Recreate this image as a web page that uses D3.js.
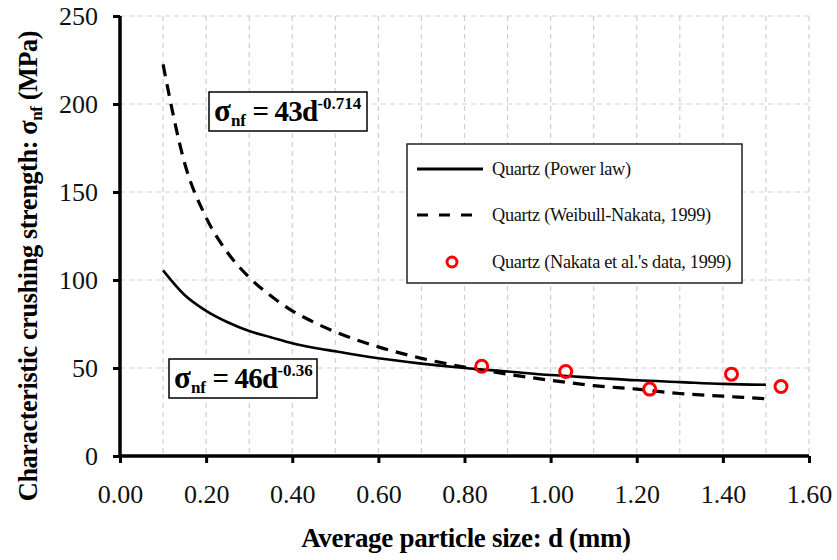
<!DOCTYPE html>
<html>
<head>
<meta charset="utf-8">
<script src="https://cdn.jsdelivr.net/npm/d3@7"></script>
</head>
<body style="margin:0">
<script>
// curve sample points
const sizes = [0.10, 0.15, 0.20, 0.25, 0.30, 0.35, 0.40, 0.45, 0.50, 0.60, 0.70, 0.80, 0.90, 1.00, 1.10, 1.20, 1.30, 1.40, 1.50];
const powerLaw = [105.5, 91.5, 82.5, 76.0, 71.0, 67.5, 64.0, 61.5, 59.5, 55.5, 52.5, 50.0, 48.0, 46.0, 44.5, 43.0, 42.0, 41.0, 40.5];
const weibull = [222.5, 166.5, 135.5, 115.5, 101.5, 91.0, 82.5, 76.0, 70.5, 62.0, 55.5, 50.5, 46.5, 43.0, 40.0, 38.0, 35.5, 34.0, 32.5];

// Nakata et al. measured points
const dataSize = [0.84, 1.035, 1.23, 1.42, 1.535];
const dataStrength = [51.0, 48.0, 38.0, 46.5, 39.5];

const xTicks = [0, 0.2, 0.4, 0.6, 0.8, 1.0, 1.2, 1.4, 1.6];
const yTicks = [0, 50, 100, 150, 200, 250];
const legendLabels = ['Quartz (Power law)', 'Quartz (Weibull-Nakata, 1999)', "Quartz (Nakata et al.'s data, 1999)"];

const FONT = 'Liberation Serif, Times New Roman, Tinos, serif';

const width = 837, height = 560;
const margin = {top: 16, right: 28, bottom: 104, left: 120};
const w = width - margin.left - margin.right;
const h = height - margin.top - margin.bottom;

const svg = d3.select('body').append('svg')
    .attr('width', width)
    .attr('height', height)
    .attr('font-family', FONT);

const g = svg.append('g')
    .attr('transform', `translate(${margin.left},${margin.top})`);

const x = d3.scaleLinear().domain([0, 1.6]).range([0, w]);
const y = d3.scaleLinear().domain([0, 250]).range([h, 0]);

// grid
const gridX = d3.range(1, 17).map(i => i / 10);
g.append('g').selectAll('line')
    .data(gridX)
    .join('line')
    .attr('x1', d => x(d)).attr('x2', d => x(d))
    .attr('y1', 0).attr('y2', h)
    .attr('stroke', '#cfcfcf').attr('stroke-width', 1.2)
    .attr('stroke-dasharray', '5,4');

g.append('g').selectAll('line')
    .data(yTicks.slice(1))
    .join('line')
    .attr('x1', 0).attr('x2', w)
    .attr('y1', d => y(d)).attr('y2', d => y(d))
    .attr('stroke', '#cfcfcf').attr('stroke-width', 1.2)
    .attr('stroke-dasharray', '5,4');

// axes
const xAxis = g.append('g')
    .attr('transform', `translate(0,${h})`)
    .call(d3.axisBottom(x).tickValues(xTicks).tickFormat(d3.format('.2f')).tickSize(7).tickPadding(22));
const yAxis = g.append('g')
    .call(d3.axisLeft(y).tickValues(yTicks).tickSize(7).tickPadding(15));

[xAxis, yAxis].forEach(a => {
    a.attr('font-family', FONT).attr('font-size', 26);
    a.select('.domain').attr('stroke', '#000').attr('stroke-width', 3.5);
    a.selectAll('.tick line').attr('stroke', '#000').attr('stroke-width', 3);
    a.selectAll('.tick text')
        .attr('fill', '#111')
        .attr('font-family', FONT);
});
xAxis.select('.domain').attr('d', `M0,0H${w}`);
yAxis.select('.domain').attr('d', `M0,0V${h}`);

// curves
const line = d3.line()
    .x(d => x(d[0]))
    .y(d => y(d[1]))
    .curve(d3.curveMonotoneX);

g.append('path')
    .datum(d3.zip(sizes, weibull))
    .attr('d', line)
    .attr('fill', 'none')
    .attr('stroke', '#000')
    .attr('stroke-width', 3.2)
    .attr('stroke-dasharray', '12,8');

g.append('path')
    .datum(d3.zip(sizes, powerLaw))
    .attr('d', line)
    .attr('fill', 'none')
    .attr('stroke', '#000')
    .attr('stroke-width', 2.6);

g.append('g').selectAll('circle')
    .data(d3.zip(dataSize, dataStrength))
    .join('circle')
    .attr('cx', d => x(d[0]))
    .attr('cy', d => y(d[1]))
    .attr('r', 6)
    .attr('fill', 'none')
    .attr('stroke', '#ff0000')
    .attr('stroke-width', 3);

// legend
const legend = svg.append('g').attr('transform', 'translate(407,144)');
legend.append('rect')
    .attr('width', 335).attr('height', 139)
    .attr('fill', '#fff').attr('stroke', '#222').attr('stroke-width', 1.5);

const rowY = [25, 71, 118];
legend.append('line')
    .attr('x1', 10).attr('x2', 76).attr('y1', rowY[0]).attr('y2', rowY[0])
    .attr('stroke', '#000').attr('stroke-width', 3);
legend.append('line')
    .attr('x1', 10).attr('x2', 76).attr('y1', rowY[1]).attr('y2', rowY[1])
    .attr('stroke', '#000').attr('stroke-width', 3.2).attr('stroke-dasharray', '11,11');
legend.append('circle')
    .attr('cx', 45).attr('cy', rowY[2]).attr('r', 5)
    .attr('fill', 'none').attr('stroke', '#ff0000').attr('stroke-width', 3);

legend.selectAll('text.lab')
    .data(legendLabels)
    .join('text')
    .attr('class', 'lab')
    .attr('x', 85)
    .attr('y', (d, i) => rowY[i] + 6)
    .attr('font-family', FONT)
    .attr('font-size', 18.3)
    .attr('letter-spacing', -0.3)
    .attr('fill', '#111')
    .text(d => d);

// equation boxes
function equation(bx, by, bw, bh, coef, expo) {
    const e = svg.append('g').attr('transform', `translate(${bx},${by})`);
    e.append('rect')
        .attr('width', bw).attr('height', bh)
        .attr('fill', '#fff').attr('stroke', '#000').attr('stroke-width', 1.5);
    const t = e.append('text')
        .attr('x', 5).attr('y', bh - 10)
        .attr('font-family', FONT)
        .attr('font-weight', 'bold').attr('fill', '#000');
    t.append('tspan').attr('font-size', 31).text('σ');
    t.append('tspan').attr('font-size', 17).attr('dy', 5).text('nf');
    t.append('tspan').attr('font-size', 29).attr('dy', -5).attr('letter-spacing', -0.8).text(' = ' + coef + 'd');
    t.append('tspan').attr('font-size', 17).attr('dy', -12).text(expo);
}
equation(209, 92, 158, 39, '43', '-0.714');
equation(169, 359, 148, 39, '46', '-0.36');

// axis titles
svg.append('text')
    .attr('x', 466).attr('y', 547)
    .attr('text-anchor', 'middle')
    .attr('font-family', FONT)
    .attr('font-weight', 'bold').attr('font-size', 27)
    .attr('letter-spacing', -0.3)
    .attr('fill', '#000')
    .text('Average particle size: d (mm)');

const yt = svg.append('text')
    .attr('transform', 'translate(37,266) rotate(-90)')
    .attr('text-anchor', 'middle')
    .attr('font-family', FONT)
    .attr('font-weight', 'bold').attr('font-size', 26.3)
    .attr('letter-spacing', -0.4)
    .attr('fill', '#000');
yt.append('tspan').text('Characteristic crushing strength: σ');
yt.append('tspan').attr('font-size', 17).attr('dy', 5).text('nf');
yt.append('tspan').attr('dy', -5).text(' (MPa)');
</script>
</body>
</html>
